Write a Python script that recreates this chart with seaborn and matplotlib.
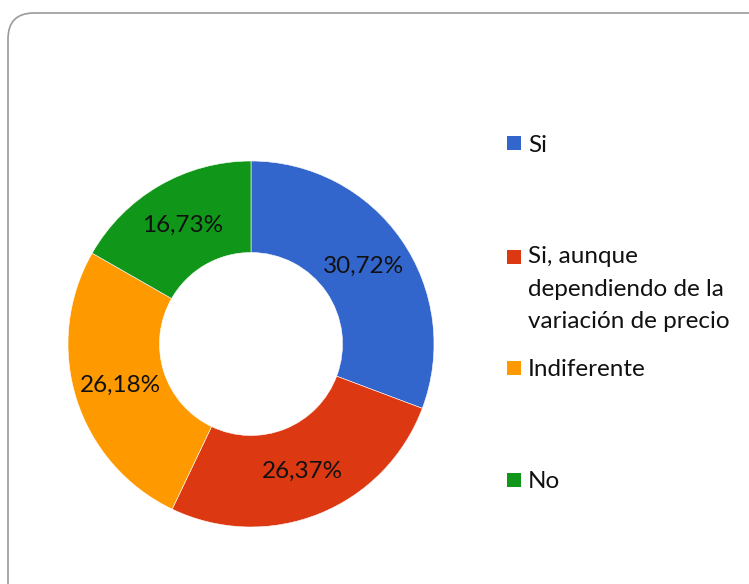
import matplotlib
matplotlib.use("Agg")
import matplotlib.pyplot as plt
from matplotlib.patches import FancyBboxPatch, Rectangle
import seaborn as sns

categories = ["Si", "Si, aunque\ndependiendo de la\nvariación de precio", "Indiferente", "No"]
values = [30.72, 26.37, 26.18, 16.73]
colors = ["#3366CC", "#DC3912", "#FF9900", "#109618"]

sns.set_theme(style="white")
plt.rcParams["font.family"] = ["Lato", "DejaVu Sans"]

W, H = 749, 584
fig = plt.figure(figsize=(W / 100, H / 100), dpi=100)
fig.patch.set_facecolor("white")

# rounded frame around the chart area (pixel coordinates)
frame = FancyBboxPatch((8, -40), 820, H - 13 + 40,
                       boxstyle="round,pad=0,rounding_size=26",
                       transform=None, facecolor="none",
                       edgecolor="#9a9a9a", linewidth=1.2)
fig.patches.append(frame)

# donut axes: centre (251, 344) px, outer radius 183 px
cx, cy, r = 251, 344, 183
ax = fig.add_axes([(cx - r) / W, (H - cy - r) / H, 2 * r / W, 2 * r / H])
wedges, texts, autotexts = ax.pie(
    values, colors=colors, startangle=90, counterclock=False,
    radius=1.0, pctdistance=0.75,
    autopct=lambda p: f"{p:.2f}%".replace(".", ","),
    wedgeprops=dict(width=0.5, edgecolor="white", linewidth=0.4),
    textprops=dict(fontsize=17.5, color="#111111"),
)
ax.set_xlim(-1, 1)
ax.set_ylim(-1, 1)
ax.set_aspect("equal")
ax.axis("off")

# legend entries on the right
entry_tops = [143, 257, 368, 480]
for label, col, top in zip(categories, colors, entry_tops):
    fig.patches.append(Rectangle((507, H - top - 7), 14, 14, transform=None,
                                 facecolor=col, edgecolor="none"))
    if "\n" in label:
        fig.text(528 / W, (H - top + 11) / H, label, fontsize=17.5,
                 color="#111111", va="top", ha="left", linespacing=1.68)
    else:
        fig.text(528 / W, (H - top) / H, label, fontsize=17.5,
                 color="#111111", va="center_baseline", ha="left")

fig.savefig("out.png", dpi=100, facecolor="white")
